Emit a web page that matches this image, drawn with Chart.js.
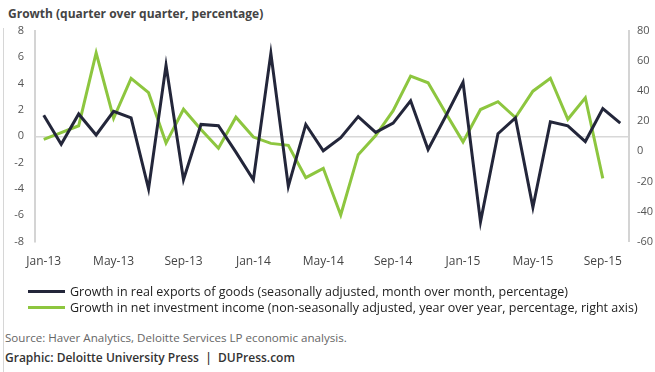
<!DOCTYPE html>
<html>
<head>
<meta charset="utf-8">
<script src="https://cdn.jsdelivr.net/npm/chart.js@4.4.0/dist/chart.umd.min.js"></script>
<style>
  html, body { margin: 0; padding: 0; background: #fff; }
  body { width: 655px; height: 372px; position: relative; overflow: hidden; font-family: "Open Sans", sans-serif; }
  .edge { position: absolute; left: 3px; top: 28px; width: 1px; height: 344px; background: #d6d6d6; }
  .title { position: absolute; left: 8px; top: 5px; font-size: 12px; font-weight: 700; color: #444; white-space: nowrap; }
  .chart-wrap { position: absolute; left: 0; top: 0; width: 655px; height: 288px; }
  .legend { position: absolute; left: 28px; top: 284px; font-size: 12.5px; color: #222; }
  .legend-row { height: 16px; line-height: 16px; white-space: nowrap; }
  .swatch { display: inline-block; width: 37px; height: 3px; vertical-align: middle; margin-right: 5px; position: relative; top: -1px; }
  .source { position: absolute; left: 5px; top: 330px; font-size: 11.6px; color: #666; white-space: nowrap; }
  .credit { position: absolute; left: 5px; top: 349px; font-size: 12px; font-weight: 600; color: #333; white-space: nowrap; }
</style>
</head>
<body>
<div class="edge"></div>
<div class="title">Growth (quarter over quarter, percentage)</div>
<div class="chart-wrap"><canvas id="growthChart"></canvas></div>
<div class="legend" id="legend"></div>
<div class="source">Source: Haver Analytics, Deloitte Services LP economic analysis.</div>
<div class="credit">Graphic: Deloitte University Press&nbsp; |&nbsp; DUPress.com</div>

<script>
// Monthly categories, Jan-13 through Oct-15
var months = [
  "Jan-13", "Feb-13", "Mar-13", "Apr-13", "May-13", "Jun-13",
  "Jul-13", "Aug-13", "Sep-13", "Oct-13", "Nov-13", "Dec-13",
  "Jan-14", "Feb-14", "Mar-14", "Apr-14", "May-14", "Jun-14",
  "Jul-14", "Aug-14", "Sep-14", "Oct-14", "Nov-14", "Dec-14",
  "Jan-15", "Feb-15", "Mar-15", "Apr-15", "May-15", "Jun-15",
  "Jul-15", "Aug-15", "Sep-15", "Oct-15"
];

// Real exports of goods, m/m % (left axis)
var exportsGrowth = [
  1.6, -0.6, 1.7, 0.1, 1.9, 1.4, -4.0, 5.4, -3.3, 0.9, 0.8, -1.2,
  -3.3, 6.3, -3.8, 0.9, -1.1, -0.1, 1.5, 0.3, 1.0, 2.7, -1.0, 1.5,
  4.1, -6.5, 0.2, 1.4, -5.4, 1.1, 0.8, -0.4, 2.1, 1.0
];

// Net investment income, y/y % (right axis), no Oct-15 reading yet
var incomeGrowth = [
  8, 12.5, 17, 65.5, 22, 48.5, 39, 5.5, 28, 14.5, 2, 22.7,
  9.5, 5.3, 4, -17.5, -11.3, -42.3, -2.2, 10.5, 27, 50, 45.6, 25.6,
  6.3, 27.8, 33, 22.5, 40, 48.6, 21.3, 35.6, -18, null
];

var seriesNames = [
  "Growth in real exports of goods (seasonally adjusted, month over month, percentage)",
  "Growth in net investment income (non-seasonally adjusted, year over year, percentage, right axis)"
];

var leftTicks = { min: -8, max: 8, step: 2 };
var rightTicks = { min: -60, max: 80, step: 20 };

var colorExports = "#23263a";
var colorIncome = "#8dc63f";
var axisColor = "#d4d4d4";
var tickFont = { family: "Open Sans", size: 11 };

// Legend rows below the x axis
var legendEl = document.getElementById("legend");
[colorExports, colorIncome].forEach(function (c, i) {
  var row = document.createElement("div");
  row.className = "legend-row";
  row.innerHTML = '<span class="swatch" style="background:' + c + '"></span>' + seriesNames[i];
  legendEl.appendChild(row);
});

var ctx = document.getElementById("growthChart").getContext("2d");

new Chart(ctx, {
  type: "line",
  data: {
    labels: months,
    datasets: [
      {
        label: seriesNames[0],
        data: exportsGrowth,
        borderColor: colorExports,
        borderWidth: 3,
        pointRadius: 0,
        tension: 0,
        yAxisID: "y",
        order: 1
      },
      {
        label: seriesNames[1],
        data: incomeGrowth,
        borderColor: colorIncome,
        borderWidth: 3,
        pointRadius: 0,
        tension: 0,
        yAxisID: "y1",
        order: 2
      }
    ]
  },
  options: {
    responsive: true,
    maintainAspectRatio: false,
    animation: false,
    layout: { padding: { top: 31, bottom: 6, left: 0, right: 0 } },
    plugins: {
      legend: { display: false },
      tooltip: { enabled: false }
    },
    scales: {
      x: {
        offset: true,
        grid: { display: false, drawTicks: false },
        border: { display: false },
        ticks: {
          autoSkip: false,
          maxRotation: 0,
          padding: 13,
          font: { family: "Open Sans", size: 12 },
          color: "#444",
          callback: function (value, index) {
            return index % 4 === 0 ? months[index] : "";
          }
        }
      },
      y: {
        position: "left",
        min: leftTicks.min,
        max: leftTicks.max,
        afterFit: function (scale) { scale.width = 35; },
        border: { display: true, color: axisColor, width: 2 },
        grid: {
          drawTicks: false,
          color: function (c) {
            return c.tick && c.tick.value === 0 ? "#d8d8d8" : "rgba(0,0,0,0)";
          },
          lineWidth: 1.5
        },
        ticks: {
          stepSize: leftTicks.step,
          padding: 11,
          font: tickFont,
          color: "#555"
        }
      },
      y1: {
        position: "right",
        min: rightTicks.min,
        max: rightTicks.max,
        afterFit: function (scale) { scale.width = 26; },
        border: { display: true, color: axisColor, width: 2 },
        grid: { drawOnChartArea: false, drawTicks: false },
        ticks: {
          stepSize: rightTicks.step,
          padding: 8,
          font: tickFont,
          color: "#555"
        }
      }
    }
  }
});
</script>
</body>
</html>
